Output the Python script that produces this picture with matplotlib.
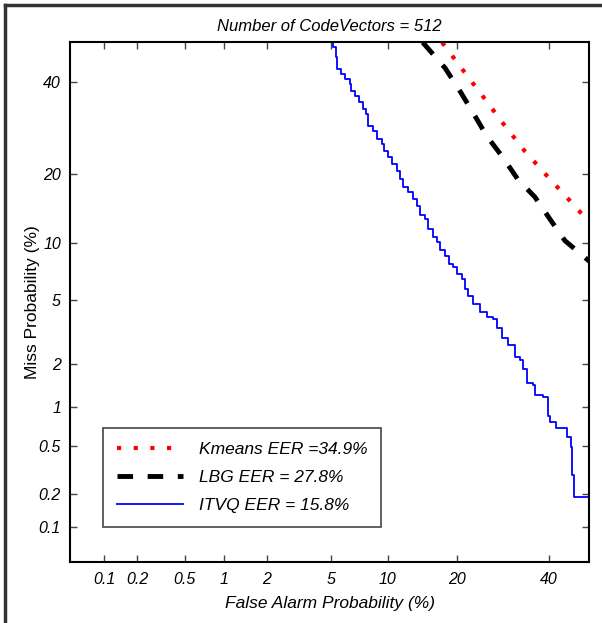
import numpy as np
import matplotlib
matplotlib.use("Agg")
import matplotlib.pyplot as plt
from matplotlib.lines import Line2D
from statistics import NormalDist

plt.rcParams['font.family'] = ['Liberation Sans', 'DejaVu Sans']

# DET curves, values in percent (false alarm, miss)
kmeans_fa = [17.5, 21.3, 25.6, 29.4, 34.2, 39.2, 44.7, 50.3]
kmeans_miss = [50.0, 42.7, 35.6, 30.1, 24.4, 20.0, 16.0, 12.5]

lbg_fa = [14.5, 18.0, 20.6, 23.2, 25.8, 29.2, 32.6, 36.6, 40.5, 44.0, 50.3]
lbg_miss = [50.0, 43.5, 37.8, 32.4, 27.5, 23.2, 19.1, 16.2, 12.8, 10.3, 8.1]

itvq_fa = [4.95, 5.15, 5.36, 5.42, 5.71, 6.01, 6.4, 6.48, 6.81, 7.15, 7.5,
           7.78, 7.97, 8.45, 8.85, 9.37, 9.59, 10.0, 10.5, 11.1, 11.4, 11.8,
           12.5, 13.1, 13.7, 14.1, 14.8, 15.3, 16.0, 16.7, 17.1, 18.0, 18.6,
           19.3, 20.0, 20.9, 21.5, 22.1, 23.0, 24.4, 25.8, 27.1, 27.9, 29.0,
           30.3, 31.9, 33.0, 33.7, 34.7, 36.1, 36.6, 38.5, 39.7, 40.2, 41.7,
           44.0, 44.5, 45.5, 45.7, 46.2, 48.5, 50.0, 50.0]
itvq_miss = [50.4, 48.8, 46.3, 43.3, 42.0, 40.8, 39.5, 37.8, 36.6, 35.2,
             33.5, 32.4, 29.7, 28.6, 26.9, 25.8, 24.4, 23.2, 21.9, 20.6,
             19.1, 17.9, 17.0, 15.9, 14.8, 13.6, 13.0, 11.7, 10.7, 10.1,
             9.24, 8.62, 7.84, 7.56, 6.95, 6.53, 5.76, 5.26, 4.73, 4.25,
             3.97, 3.86, 3.45, 2.99, 2.7, 2.25, 2.15, 1.85, 1.5, 1.45, 1.23,
             1.19, 0.864, 0.778, 0.7, 0.7, 0.595, 0.496, 0.291, 0.188, 0.188,
             0.0979, 0.01]

labels = ["Kmeans EER =34.9%", "LBG EER = 27.8%", "ITVQ EER = 15.8%"]
tick_vals = [0.1, 0.2, 0.5, 1, 2, 5, 10, 20, 40]
tick_text = ["0.1", "0.2", "0.5", "1", "2", "5", "10", "20", "40"]

_nd = NormalDist()
_ppf = np.vectorize(_nd.inv_cdf, otypes=[float])
_cdf = np.vectorize(_nd.cdf, otypes=[float])


def probit(p):
    p = np.clip(np.asarray(p, dtype=float) / 100.0, 1e-9, 1 - 1e-9)
    return _ppf(p)


def inv_probit(z):
    return _cdf(np.asarray(z, dtype=float)) * 100.0


fig = plt.figure(figsize=(6.02, 6.23), dpi=100)
ax = fig.add_axes([0.1163, 0.0979, 0.8621, 0.8347])
ax.set_xscale('function', functions=(probit, inv_probit))
ax.set_yscale('function', functions=(probit, inv_probit))

ax.plot(kmeans_fa, kmeans_miss, color='red', lw=3,
        linestyle=(0, (1, 3)), label=labels[0])
ax.plot(lbg_fa, lbg_miss, color='black', lw=3.5,
        linestyle=(0, (3.2, 3)), label=labels[1])
ax.plot(itvq_fa, itvq_miss, color='blue', lw=1.3,
        drawstyle='steps-post', label=labels[2])

ax.set_xlim(0.047, 50.1)
ax.set_ylim(0.046, 50.1)
ax.set_xticks(tick_vals)
ax.set_xticklabels(tick_text)
ax.set_yticks(tick_vals)
ax.set_yticklabels(tick_text)
ax.minorticks_off()
ax.tick_params(direction='in', length=5, width=1, top=True, right=True,
               labelsize=11.5, color='#444444')
ax.tick_params(axis='x', pad=7)
ax.tick_params(axis='y', pad=6.5)
for lab in ax.get_xticklabels() + ax.get_yticklabels():
    lab.set_fontstyle('italic')
for s in ax.spines.values():
    s.set_linewidth(1.5)

ax.set_title("Number of CodeVectors = 512", fontsize=12, style='italic', pad=8)
ax.set_xlabel("False Alarm Probability (%)", fontsize=12.5, style='italic', labelpad=7)
ax.set_ylabel("Miss Probability (%)", fontsize=12.5)
ax.yaxis.set_label_coords(-0.058, 0.5)

leg = ax.legend(loc='lower left', bbox_to_anchor=(0.064, 0.067),
                prop={'style': 'italic', 'size': 12.5}, fancybox=False,
                edgecolor='#444444', framealpha=1, handlelength=3.8,
                handletextpad=0.9, borderpad=0.8, labelspacing=0.75,
                borderaxespad=0)
leg.get_frame().set_linewidth(1.2)

# outer border of the screenshot
fig.add_artist(Line2D([0.009, 0.009], [0.0, 0.992], color='#333333', lw=2.5,
                      transform=fig.transFigure))
fig.add_artist(Line2D([0.009, 1.0], [0.992, 0.992], color='#333333', lw=2.5,
                      transform=fig.transFigure))

fig.savefig("out.png", dpi=100)
